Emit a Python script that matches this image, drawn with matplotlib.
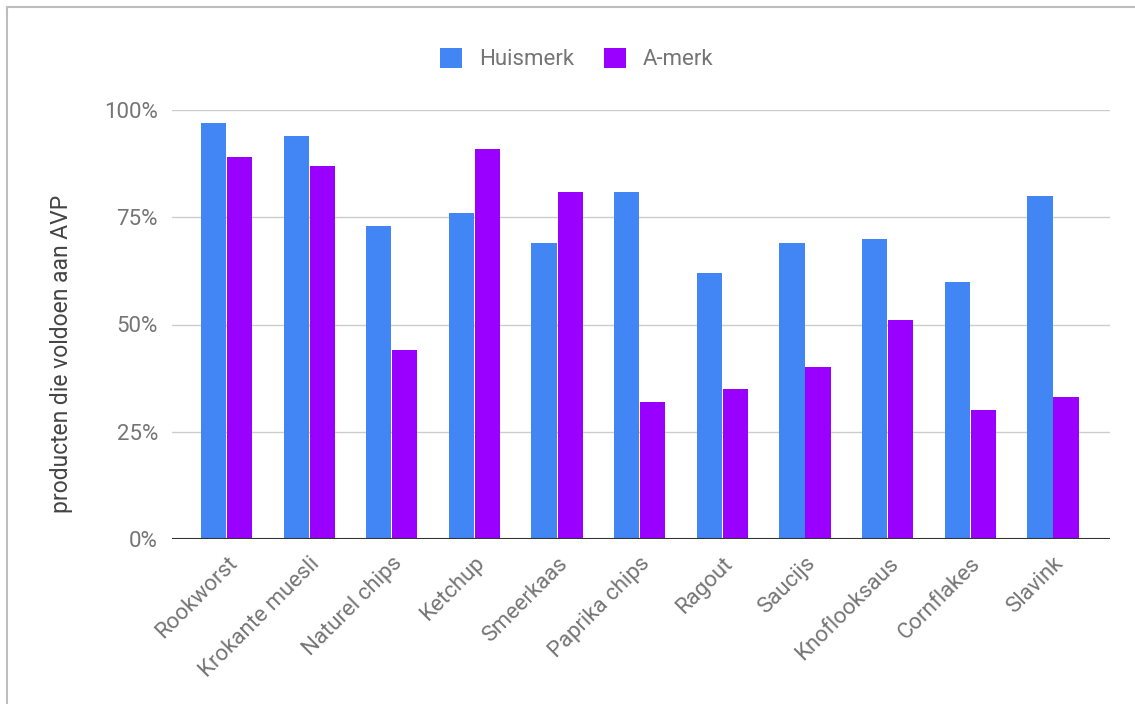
import numpy as np
import matplotlib.pyplot as plt
from matplotlib.lines import Line2D

# data
categories = ["Rookworst", "Krokante muesli", "Naturel chips", "Ketchup", "Smeerkaas",
              "Paprika chips", "Ragout", "Saucijs", "Knoflooksaus", "Cornflakes", "Slavink"]
huismerk = [97, 94, 73, 76, 69, 81, 62, 69, 70, 60, 80]
a_merk = [89, 87, 44, 91, 81, 32, 35, 40, 51, 30, 33]
y_ticks = [0, 25, 50, 75, 100]
y_ticklabels = ["0%", "25%", "50%", "75%", "100%"]

plt.rcParams['font.family'] = ['Roboto', 'DejaVu Sans']

W, H = 1135, 704
fig = plt.figure(figsize=(W / 100, H / 100), dpi=100)
ax = fig.add_axes([172 / W, 1 - 539 / H, (1110 - 172) / W, (539 - 110) / H])

x = np.arange(len(categories))
bw = 0.305
ax.bar(x - bw / 2 - 0.005, huismerk, bw, color='#4285F4', label='Huismerk', zorder=3)
ax.bar(x + bw / 2 + 0.005, a_merk, bw, color='#9900FF', label='A-merk', zorder=3)

ax.set_xlim(-0.66, len(categories) - 1 + 0.69)
ax.set_ylim(0, 100)
ax.set_yticks(y_ticks)
ax.set_yticklabels(y_ticklabels)
ax.grid(axis='y', color='#cccccc', linewidth=1, zorder=0)
ax.set_axisbelow(True)
for s in ax.spines.values():
    s.set_visible(False)
ax.axhline(0, color='#333333', linewidth=1.5, zorder=4)

ax.tick_params(axis='y', length=0, pad=10, labelsize=16, labelcolor='#757575')
ax.tick_params(axis='x', length=0, pad=10)
ax.set_xticks(x)
ax.set_xticklabels(categories, rotation=45, ha='right', rotation_mode='anchor',
                   fontsize=16, color='#757575')

fig.text(62 / W, 1 - 354 / H, "producten die voldoen aan AVP", rotation=90,
         ha='center', va='center', fontsize=16.5, color='#444444')

fig.legend(loc='center', bbox_to_anchor=(577 / W, 1 - 59 / H), ncol=2, frameon=False,
           fontsize=16, labelcolor='#757575', handlelength=1.0, handleheight=1.0,
           handletextpad=0.75, columnspacing=1.35)

# border of the original chart frame (top and left only)
fig.add_artist(Line2D([7 / W, 7 / W], [0, 1 - 7 / H], color='#bdbdbd', linewidth=1.5))
fig.add_artist(Line2D([7 / W, 1], [1 - 7 / H, 1 - 7 / H], color='#bdbdbd', linewidth=1.5))

fig.savefig("out.png", dpi=100)
